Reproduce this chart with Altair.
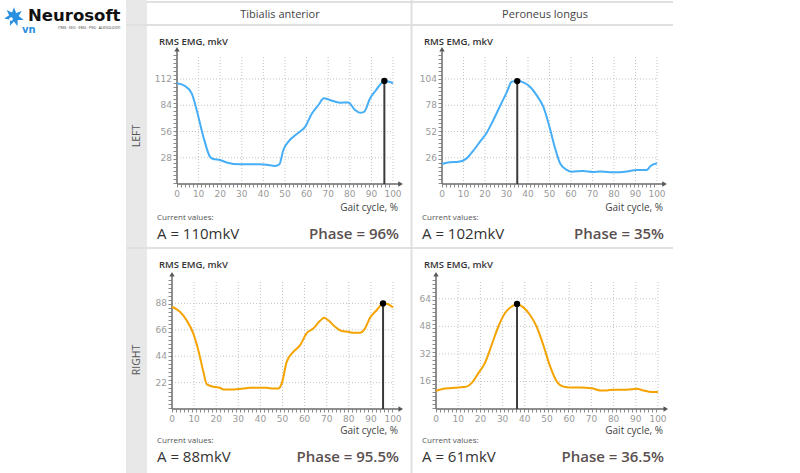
import altair as alt
import pandas as pd

# ---------------- data ----------------
muscles = ["Tibialis anterior", "Peroneus longus"]
sides = ["LEFT", "RIGHT"]

gait_ticks = [0, 10, 20, 30, 40, 50, 60, 70, 80, 90, 100]

ta_left_x = [0, 3.7, 6.8, 9.1, 12.2, 15.3, 16.8, 19.9, 23, 29.2, 33.8, 38.4, 41.5, 45.4, 47.4, 49.2, 51.5, 53.9,
             56.9, 59.3, 62.4, 65.4, 68, 70.8, 75.5, 79.3, 82.4, 84.7, 86.6, 89.4, 92.1, 94.8, 96, 98.6, 100]
ta_left_y = [107.4, 104.5, 96.7, 79, 50.5, 29, 26.7, 25.6, 23, 21, 21, 21, 20.5, 19.2, 21, 36, 45, 50.5,
             55.8, 61, 75, 84, 91.4, 89.6, 86.8, 87, 79, 76, 77, 91.4, 100, 108, 110, 108.8, 107.4]

pl_left_x = [0, 3.7, 7.6, 11.5, 13.8, 17.7, 20.8, 23.9, 27, 30.1, 32.4, 35, 37.8, 40.9, 44, 47.1, 50.2, 52.6,
             54.9, 58, 60.3, 65.7, 70.4, 73.5, 78.1, 82.8, 87.4, 90.6, 95.2, 97, 100]
pl_left_y = [19.8, 21.5, 22, 25.4, 31, 42, 50.8, 63.4, 77.3, 90.8, 101.3, 102, 100.7, 96.4, 88, 76.6, 55, 35.4,
             20.5, 13.9, 12.2, 12.9, 11.9, 12.5, 11.6, 11.6, 12.9, 13.9, 13.9, 17.8, 20.5]

ta_right_x = [0, 3.6, 6.6, 9.6, 11.9, 14.2, 15.7, 18.8, 21.7, 23.2, 27.7, 32.3, 35.3, 42.8, 45.8, 48.1, 49.6, 51.9,
              54.9, 57.9, 60.9, 63.9, 67, 68.9, 70.7, 73.8, 76.8, 79.8, 82, 85, 87.3, 89.6, 92.6, 95.5, 97.9, 100]
ta_right_y = [85.2, 81, 74, 63, 49, 31, 20.7, 18.5, 17.7, 16.3, 16.3, 17, 17.7, 17.7, 17, 17, 21, 39.3,
              47.6, 53, 63, 67, 73.5, 76, 74, 68.5, 65, 64.3, 63.5, 63.5, 67, 76, 82.3, 88, 87.3, 84.6]

pl_right_x = [0, 3.3, 6.3, 10, 13.8, 16, 19.1, 22, 25.1, 28.1, 31.1, 34.1, 36.5, 39.3, 42.3, 45.3, 48.3, 51.4,
              54.4, 57.4, 60.4, 64.9, 70.1, 73.9, 76.9, 79.9, 85.9, 90.4, 93.4, 97.2, 100]
pl_right_y = [10.6, 11.7, 12.1, 12.5, 13, 15, 20.8, 26.6, 37.3, 47.9, 55.7, 59.5, 61, 59, 54.7, 47.9, 37.3, 24.7,
              16, 13, 12.5, 12.5, 12.1, 10.8, 10.8, 11.2, 11.2, 11.7, 10.8, 9.8, 9.8]

ta_left_ticks = [28, 56, 84, 112]
pl_left_ticks = [26, 52, 78, 104]
ta_right_ticks = [22, 44, 66, 88]
pl_right_ticks = [16, 32, 48, 64]

amplitudes = [110, 102, 88, 61]      # mkV, current values
phases = [96, 35, 95.5, 36.5]        # % of gait cycle

# ---------------- styling / layout ----------------
FONT = "Open Sans"
BLUE = "#46aef7"
ORANGE = "#f5a300"
GRID = "#c4c4c4"
AXIS = "#6a6a6a"
LINE_C = "#e0e0e0"


def vtext(s, x, y, size=11, color="#444", weight="normal", align="left", font=FONT, angle=0, baseline="middle"):
    return alt.Chart(alt.Data(values=[{}])).mark_text(
        text=s, fontSize=size, color=color, fontWeight=weight, align=align, font=font,
        angle=angle, baseline=baseline
    ).encode(x=alt.value(x), y=alt.value(y))


def vrule(x, x2, y, y2, color=LINE_C, width=2):
    return alt.Chart(alt.Data(values=[{}])).mark_rule(color=color, strokeWidth=width).encode(
        x=alt.value(x), x2=alt.value(x2), y=alt.value(y), y2=alt.value(y2))


def panel(xv, yv, ticks, amp, phase, color, x0, x1, yb, yt, ymax):
    xs = alt.Scale(domain=[0, 100], range=[x0, x1], nice=False, zero=False)
    ys = alt.Scale(domain=[0, ymax], range=[yb, yt], nice=False, zero=False)
    X = lambda f: alt.X(f, scale=xs, axis=None)
    Y = lambda f: alt.Y(f, scale=ys, axis=None)

    vg = alt.Chart(pd.DataFrame({"g": gait_ticks[1:], "a": 0, "b": ymax})).mark_rule(
        color=GRID, strokeDash=[1, 2], strokeWidth=1).encode(x=X("g:Q"), y=Y("a:Q"), y2="b:Q")
    hg = alt.Chart(pd.DataFrame({"g": ticks, "a": 0, "b": 100})).mark_rule(
        color=GRID, strokeDash=[1, 2], strokeWidth=1).encode(y=Y("g:Q"), x=X("a:Q"), x2="b:Q")

    ax = alt.Chart(pd.DataFrame({"xa": [0, 0], "xb": [0, 103], "ya": [0, 0], "yb": [ymax * 1.03, 0]})).mark_rule(
        color=AXIS, strokeWidth=1.5).encode(x=X("xa:Q"), x2="xb:Q", y=Y("ya:Q"), y2="yb:Q")
    mx = alt.Chart(pd.DataFrame({"a": [0], "b": [100], "c": [0]})).mark_rule(
        color="#8a8a8a", strokeWidth=3, strokeDash=[1, 3], yOffset=2).encode(x=X("a:Q"), x2="b:Q", y=Y("c:Q"))
    my = alt.Chart(pd.DataFrame({"a": [0], "b": [ymax], "c": [0]})).mark_rule(
        color="#8a8a8a", strokeWidth=3, strokeDash=[1, 3], xOffset=-2).encode(y=Y("a:Q"), y2="b:Q", x=X("c:Q"))
    arrows = alt.Chart(pd.DataFrame({"x": [0, 103.5], "y": [ymax * 1.045, 0],
                                     "s": ["triangle-up", "triangle-right"]})).mark_point(
        filled=True, size=28, color="#555", opacity=1).encode(
        x=X("x:Q"), y=Y("y:Q"), shape=alt.Shape("s:N", scale=None))

    xl = alt.Chart(pd.DataFrame({"t": gait_ticks, "z": 0})).mark_text(
        fontSize=9, color="#9a9a9a", font="DejaVu Sans", baseline="middle", dy=9.5).encode(
        x=X("t:Q"), y=Y("z:Q"), text="t:Q")
    yl = alt.Chart(pd.DataFrame({"t": ticks, "z": 0})).mark_text(
        fontSize=9, color="#9a9a9a", font="DejaVu Sans", baseline="middle", align="right", dx=-5).encode(
        y=Y("t:Q"), x=X("z:Q"), text="t:Q")

    line = alt.Chart(pd.DataFrame({"x": xv, "y": yv})).mark_line(
        color=color, strokeWidth=2, interpolate="monotone").encode(x=X("x:Q"), y=Y("y:Q"))
    cur = pd.DataFrame({"p": [phase], "a": [amp], "z": [0]})
    pr = alt.Chart(cur).mark_rule(color="#3a3a3a", strokeWidth=2).encode(x=X("p:Q"), y=Y("z:Q"), y2="a:Q")
    pt = alt.Chart(cur).mark_circle(color="#000", size=40, opacity=1).encode(x=X("p:Q"), y=Y("a:Q"))
    return alt.layer(vg, hg, mx, my, ax, arrows, xl, yl, line, pr, pt)


def fmt(v):
    return f"{v:g}"


# panel geometry: (plot x-range, y pixel of zero, y pixel of top, top value)
geoms = [
    dict(x0=177, x1=393, yb=184, yt=55, ymax=137.6, tl=157, tr=399, row=25),
    dict(x0=442, x1=657, yb=184, yt=55, ymax=127.8, tl=422, tr=664, row=25),
    dict(x0=172, x1=393, yb=409, yt=280, ymax=107.5, tl=157, tr=399, row=248),
    dict(x0=436, x1=658, yb=409, yt=280, ymax=74.9, tl=422, tr=664, row=248),
]
series = [
    (ta_left_x, ta_left_y, ta_left_ticks, BLUE),
    (pl_left_x, pl_left_y, pl_left_ticks, BLUE),
    (ta_right_x, ta_right_y, ta_right_ticks, ORANGE),
    (pl_right_x, pl_right_y, pl_right_ticks, ORANGE),
]

layers = []
# frame
layers.append(alt.Chart(alt.Data(values=[{}])).mark_rect(color="#e8e8e8").encode(
    x=alt.value(126), x2=alt.value(147), y=alt.value(0), y2=alt.value(473)))
layers.append(vrule(147, 673, 2, 2))
layers.append(vrule(126, 673, 25, 25))
layers.append(vrule(126, 673, 248, 248))
layers.append(vrule(411.5, 411.5, 0, 473))
layers.append(vtext(muscles[0], 280, 15, size=11, color="#444", align="center"))
layers.append(vtext(muscles[1], 545, 15, size=11, color="#444", align="center"))
layers.append(vtext(sides[0], 137, 136, size=10.5, color="#555", align="center", angle=270))
layers.append(vtext(sides[1], 137, 360, size=10.5, color="#555", align="center", angle=270))

# logo
star = ("M0,-1 L0.22,-0.42 L0.8,-0.62 L0.48,-0.1 L1,0.3 L0.38,0.32 L0.35,0.95 L0,0.45 "
        "L-0.42,0.9 L-0.4,0.28 L-1,0.15 L-0.5,-0.18 L-0.75,-0.72 L-0.2,-0.45 Z")
layers.append(alt.Chart(alt.Data(values=[{}])).mark_point(
    shape=star, filled=True, color="#2b8fe0", size=380, opacity=1).encode(x=alt.value(14), y=alt.value(17)))
layers.append(alt.Chart(alt.Data(values=[{}])).mark_circle(color="white", size=14, opacity=1).encode(
    x=alt.value(11), y=alt.value(19)))
layers.append(vtext("Neurosoft", 28, 21, size=16.5, color="#111", weight="bold", font="DejaVu Sans",
                    baseline="alphabetic"))
layers.append(vtext("vn", 22, 33, size=10, color="#2b8fe0", weight="bold", font="DejaVu Sans",
                    baseline="alphabetic"))
layers.append(vtext("(TMS · EEG · EMG · PSG · AUDIOLOGY)", 58, 28, size=3.6, color="#333"))

for g, (xv, yv, tk, col), amp, ph in zip(geoms, series, amplitudes, phases):
    layers.append(panel(xv, yv, tk, amp, ph, col, g["x0"], g["x1"], g["yb"], g["yt"], g["ymax"]))
    r = g["row"]
    layers.append(vtext("RMS EMG, mkV", g["tl"] + 2, r + 17, size=9.5, color="#333", weight=600))
    layers.append(vtext("Gait cycle, %", g["tr"] - 1, r + 182.5, size=10, color="#444", align="right"))
    layers.append(vtext("Current values:", g["tl"], r + 192.5, size=8, color="#555"))
    layers.append(vtext(f"A = {fmt(amp)}mkV", g["tl"], r + 209, size=15, color="#333"))
    layers.append(vtext(f"Phase = {fmt(ph)}%", g["tr"], r + 209, size=15, color="#5a5050", weight=600,
                        align="right"))

chart = alt.layer(*layers).resolve_scale(x="independent", y="independent").properties(
    width=800, height=473, padding=0, autosize="none"
).configure_view(stroke=None)

chart.save("out.html", embed_options={"renderer": "svg", "actions": False})
